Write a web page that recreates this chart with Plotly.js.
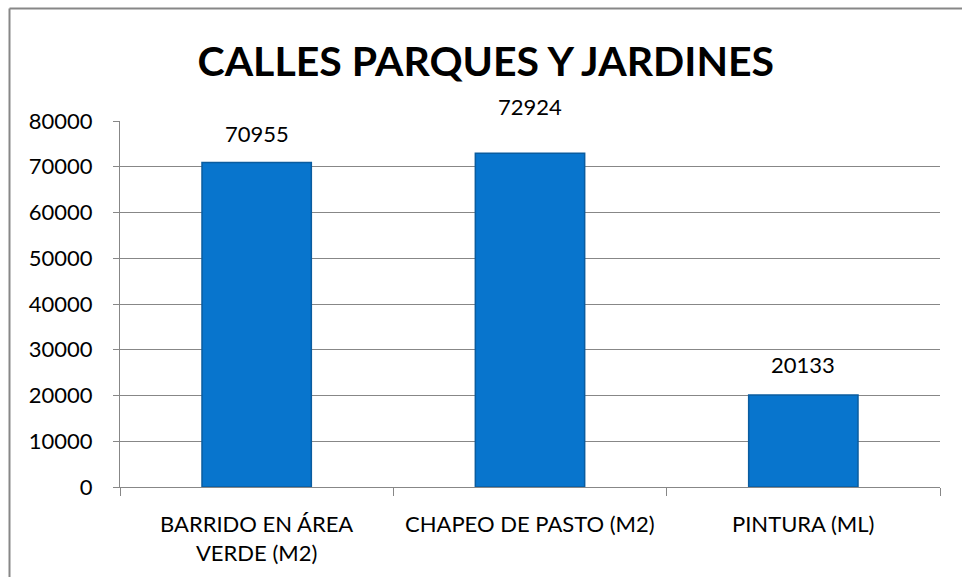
<!DOCTYPE html>
<html>
<head>
<meta charset="utf-8">
<script src="https://cdn.plot.ly/plotly-3.0.1.min.js"></script>
<style>
html,body{margin:0;padding:0;background:#fff;}
#chart{width:962px;height:577px;}
</style>
</head>
<body>
<div id="chart"></div>
<script>
const categories = ["BARRIDO EN ÁREA VERDE (M2)", "CHAPEO DE PASTO (M2)", "PINTURA (ML)"];
const tickLabels = ["BARRIDO EN ÁREA<br>VERDE (M2)", "CHAPEO DE PASTO (M2)", "PINTURA (ML)"];
const values = [70955, 72924, 20133];
const yTicks = [0, 10000, 20000, 30000, 40000, 50000, 60000, 70000, 80000];

const font = "Lato, 'Open Sans', sans-serif";

const trace = {
  type: "bar",
  x: categories,
  y: values,
  width: 0.4,
  marker: {color: "#0875cd", line: {color: "#0a5c9f", width: 1.5}},
  hoverinfo: "none"
};

// value labels above bars (the middle label sits higher in the original)
const labelShift = [13, 31, 15];
const annotations = categories.map((c, i) => ({
  x: c, y: values[i], xref: "x", yref: "y",
  text: String(values[i]),
  showarrow: false, yanchor: "bottom", yshift: labelShift[i],
  font: {family: font, size: 22, color: "#000"}
}));
// category labels under the axis (drawn as annotations so multi-line text renders fully)
categories.forEach((c, i) => annotations.push({
  x: c, y: 0, xref: "x", yref: "paper",
  text: tickLabels[i],
  showarrow: false, yanchor: "top", valign: "top", yshift: -21,
  font: {family: font, size: 22, color: "#000"}
}));

const L = 120, R = 940, T = 121, B = 487;
const px = v => (v - L) / (R - L);
const py = v => (B - v) / (B - T);
const shapes = [
  {type: "line", xref: "paper", yref: "paper", x0: px(9.5), x1: px(962), y0: py(8.5), y1: py(8.5), line: {color: "#878787", width: 2}},
  {type: "line", xref: "paper", yref: "paper", x0: px(9.5), x1: px(9.5), y0: py(8.5), y1: py(577), line: {color: "#878787", width: 2}}
];

const layout = {
  width: 962, height: 577,
  margin: {l: L, r: 962 - R, t: T, b: 577 - B, pad: 0},
  paper_bgcolor: "#fff", plot_bgcolor: "#fff",
  showlegend: false,
  title: {text: "<b>CALLES PARQUES Y JARDINES</b>", font: {family: font, size: 41, color: "#000"}, x: 0.505, xanchor: "center", y: 0.893, yanchor: "middle"},
  xaxis: {
    type: "category", tickvals: categories, tickson: "boundaries",
    showticklabels: false,
    ticks: "outside", ticklen: 8, tickcolor: "#878787", tickwidth: 1,
    showline: true, linecolor: "#878787", linewidth: 1, showgrid: false,
    fixedrange: true
  },
  yaxis: {
    range: [0, 80000], tickvals: yTicks, ticktext: yTicks.map(String),
    ticks: "outside", ticklen: 6, tickcolor: "#878787", tickwidth: 1,
    showline: true, linecolor: "#878787", linewidth: 1,
    showgrid: true, gridcolor: "#878787", gridwidth: 1, zeroline: false,
    tickfont: {family: font, size: 22, color: "#000"}, ticklabelstandoff: 16, fixedrange: true
  },
  annotations: annotations,
  shapes: shapes
};

Plotly.newPlot("chart", [trace], layout, {displayModeBar: false, staticPlot: true});
</script>
</body>
</html>
